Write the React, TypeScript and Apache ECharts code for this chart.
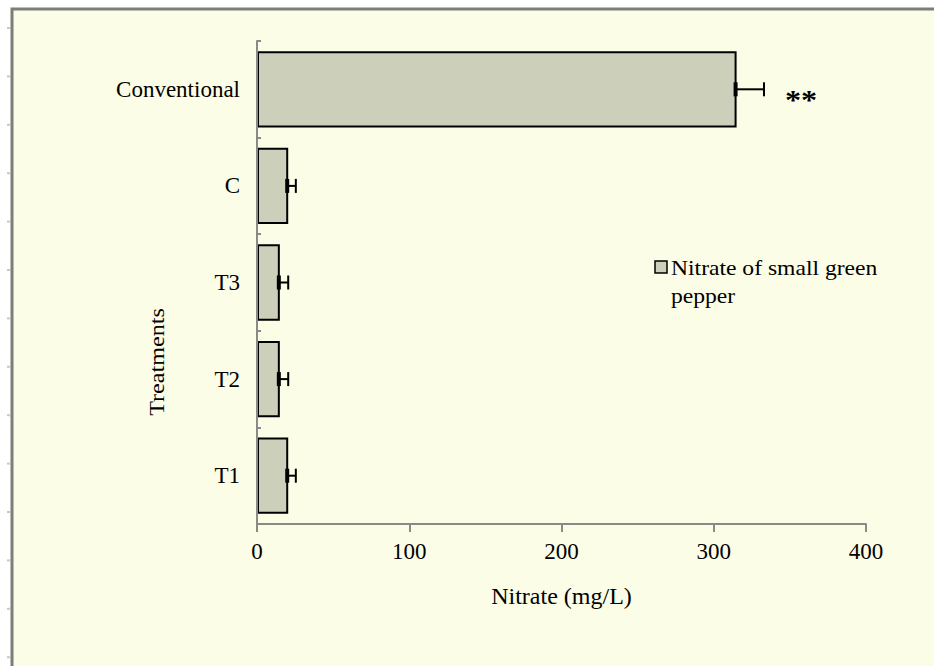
import React, { useEffect, useRef } from "react";
import * as echarts from "echarts";

const categories = ["T1", "T2", "T3", "C", "Conventional"];
const nitrate = [20.5, 15, 15, 20.5, 315];
const errors = [5, 5.5, 5.5, 5, 18];
const significance = ["", "", "", "", "**"];
const xTicks = [0, 100, 200, 300, 400];
const seriesName = "Nitrate of small green pepper";
const xAxisTitle = "Nitrate (mg/L)";
const yAxisTitle = "Treatments";

const FONT = "'Liberation Serif', 'Times New Roman', serif";
const BAR_FILL = "#cccfba";
const BG = "#fcfde7";
const AXIS_GREY = "#8a8a86";

export default function App() {
  const ref = useRef<HTMLDivElement>(null);

  useEffect(() => {
    if (!ref.current) return;
    const chart = echarts.init(ref.current, null, { renderer: "svg" });
    const errData = categories.map((_, i) => [i, nitrate[i], errors[i]]);

    const edgeMarks: any[] = [];
    for (let k = 0; k < 14; k++) {
      const y = 28 + k * 48.4;
      edgeMarks.push({
        type: "line",
        silent: true,
        shape: { x1: 7, y1: y, x2: 10, y2: y },
        style: { stroke: "#c9cabf", lineWidth: 2 },
      });
    }

    chart.setOption({
      animation: false,
      backgroundColor: "#ffffff",
      graphic: [
        {
          type: "rect",
          z: -10,
          silent: true,
          shape: { x: 12, y: 9, width: 940, height: 700 },
          style: { fill: BG, stroke: "#7d7d7a", lineWidth: 3 },
        },
        ...edgeMarks,
        {
          type: "rect",
          shape: { x: 655, y: 261, width: 12, height: 12 },
          style: { fill: BAR_FILL, stroke: "#000", lineWidth: 1.5 },
        },
        {
          type: "text",
          x: 671,
          y: 255,
          scaleX: 1.18,
          style: {
            text: "Nitrate of small green\npepper",
            font: `20px ${FONT}`,
            fill: "#000",
            lineHeight: 28,
          },
        },
        {
          type: "text",
          x: 157,
          y: 362,
          rotation: Math.PI / 2,
          scaleX: 1.15,
          style: {
            text: yAxisTitle,
            font: `21px ${FONT}`,
            fill: "#000",
            align: "center",
            verticalAlign: "middle",
          },
        },
      ],
      grid: { left: 257, right: 68, top: 41, bottom: 142, containLabel: false },
      xAxis: {
        type: "value",
        min: xTicks[0],
        max: xTicks[xTicks.length - 1],
        interval: 100,
        name: xAxisTitle,
        nameLocation: "middle",
        nameGap: 60,
        nameTextStyle: { fontFamily: FONT, fontSize: 24, color: "#000" },
        axisLine: { show: true, lineStyle: { color: AXIS_GREY, width: 2 } },
        axisTick: { show: true, length: 8, lineStyle: { color: AXIS_GREY, width: 2 } },
        axisLabel: { fontFamily: FONT, fontSize: 23, color: "#000", margin: 16 },
        splitLine: { show: false },
      },
      yAxis: {
        type: "category",
        data: categories,
        z: 5,
        axisLine: { show: true, lineStyle: { color: AXIS_GREY, width: 2 } },
        axisTick: { show: true, inside: true, length: 4, lineStyle: { color: AXIS_GREY, width: 2 } },
        axisLabel: { fontFamily: FONT, fontSize: 23, color: "#000", margin: 17 },
        splitLine: { show: false },
      },
      series: [
        {
          name: seriesName,
          type: "bar",
          data: nitrate,
          barCategoryGap: "21%",
          itemStyle: { color: BAR_FILL, borderColor: "#000", borderWidth: 2 },
        },
        {
          type: "custom",
          name: "error",
          data: errData,
          encode: { x: 1, y: 0 },
          z: 4,
          renderItem: (params: any, api: any) => {
            const i = api.value(0);
            const v = api.value(1);
            const e = api.value(2);
            const s = api.coord([v, i]);
            const t = api.coord([v + e, i]);
            const h = 7;
            const children: any[] = [
              { type: "line", shape: { x1: s[0], y1: s[1], x2: t[0], y2: t[1] }, style: { stroke: "#000", lineWidth: 2 } },
              { type: "line", shape: { x1: t[0], y1: t[1] - h, x2: t[0], y2: t[1] + h }, style: { stroke: "#000", lineWidth: 2 } },
              { type: "line", shape: { x1: s[0] - 1, y1: s[1] - h, x2: s[0] - 1, y2: s[1] + h }, style: { stroke: "#000", lineWidth: 4 } },
            ];
            const mark = significance[i];
            if (mark) {
              children.push({
                type: "text",
                x: t[0] + 21,
                y: t[1] + 10,
                scaleX: 1.15,
                style: {
                  text: mark,
                  font: `bold 28px ${FONT}`,
                  fill: "#000",
                  verticalAlign: "middle",
                  align: "left",
                },
              });
            }
            return { type: "group", children };
          },
        },
      ],
    });
    return () => chart.dispose();
  }, []);

  return (
    <div
      ref={ref}
      style={{ position: "fixed", left: 0, top: 0, width: 934, height: 666 }}
    />
  );
}
